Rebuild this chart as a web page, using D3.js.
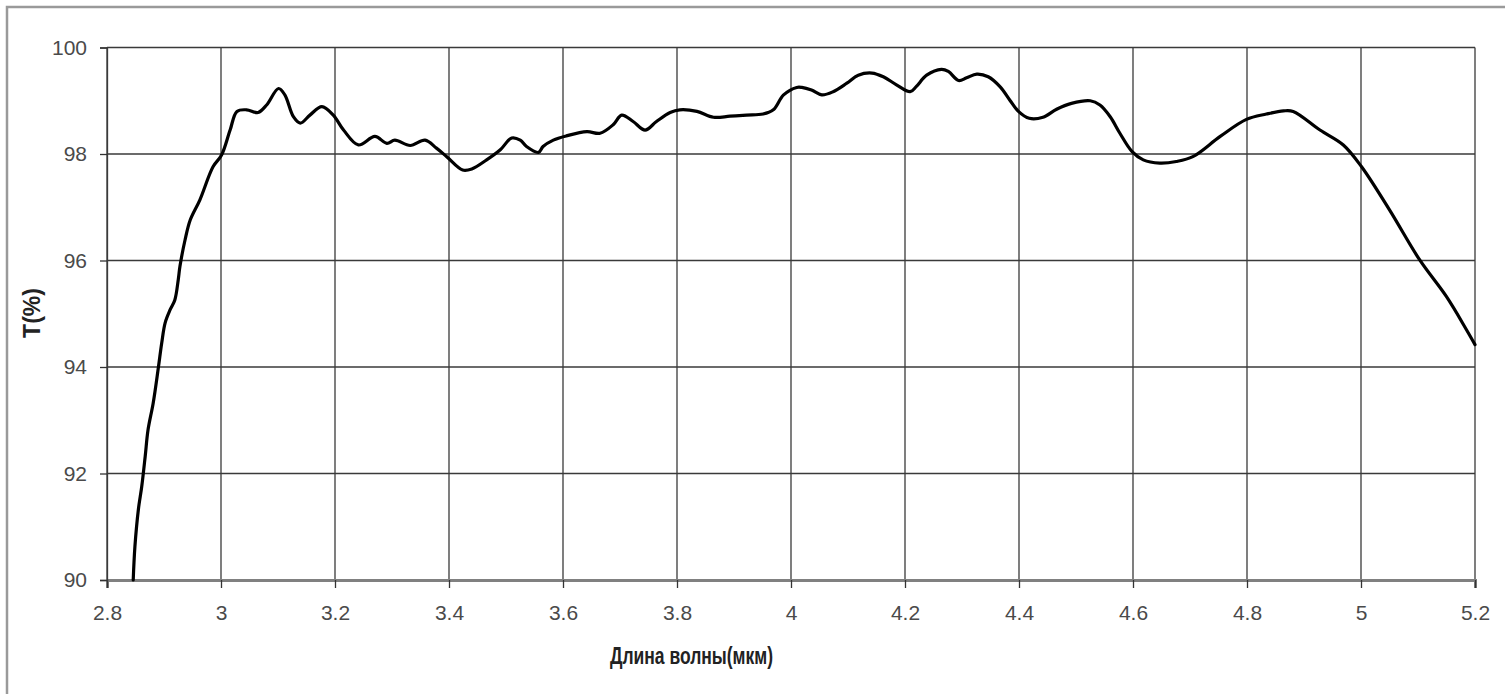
<!DOCTYPE html>
<html>
<head>
<meta charset="utf-8">
<script src="https://cdn.jsdelivr.net/npm/d3@7"></script>
<style>
  html, body { margin: 0; padding: 0; background: #fff; }
  svg { display: block; }
  .tick text { font-family: "Liberation Sans", Arial, sans-serif; fill: #4a4a4a; }
</style>
</head>
<body>
<div id="chart"></div>
<script>
// wavelength (мкм) and transmission T(%)
const wavelength = [
  2.846, 2.849, 2.855, 2.861, 2.867, 2.872, 2.881, 2.890, 2.896, 2.902,
  2.911, 2.919, 2.925, 2.928, 2.937, 2.946, 2.963, 2.986, 3.001, 3.016,
  3.028, 3.045, 3.065, 3.080, 3.101, 3.112, 3.127, 3.139, 3.156, 3.177,
  3.197, 3.215, 3.241, 3.270, 3.291, 3.305, 3.332, 3.358, 3.378, 3.396,
  3.424, 3.440, 3.466, 3.490, 3.510, 3.525, 3.536, 3.557, 3.565, 3.583,
  3.606, 3.642, 3.665, 3.688, 3.703, 3.723, 3.744, 3.764, 3.788, 3.805,
  3.835, 3.864, 3.893, 3.922, 3.951, 3.969, 3.987, 4.010, 4.019, 4.036,
  4.054, 4.074, 4.098, 4.118, 4.142, 4.162, 4.185, 4.209, 4.220, 4.238,
  4.264, 4.276, 4.294, 4.308, 4.326, 4.346, 4.367, 4.384, 4.399, 4.418,
  4.442, 4.466, 4.492, 4.525, 4.542, 4.560, 4.577, 4.598, 4.618, 4.647,
  4.676, 4.705, 4.753, 4.799, 4.834, 4.864, 4.881, 4.928, 4.969, 5.001,
  5.050, 5.103, 5.150, 5.185, 5.200
];
const transmission = [
  90.00, 90.63, 91.32, 91.76, 92.32, 92.82, 93.32, 93.98, 94.45, 94.83,
  95.08, 95.26, 95.64, 95.89, 96.39, 96.76, 97.14, 97.76, 97.98, 98.45,
  98.80, 98.83, 98.78, 98.92, 99.23, 99.11, 98.70, 98.58, 98.73, 98.89,
  98.73, 98.45, 98.17, 98.33, 98.20, 98.26, 98.16, 98.26, 98.11, 97.95,
  97.70, 97.72, 97.89, 98.08, 98.30, 98.26, 98.14, 98.03, 98.14, 98.26,
  98.34, 98.42, 98.39, 98.55, 98.73, 98.61, 98.45, 98.61, 98.78, 98.83,
  98.80, 98.69, 98.71, 98.73, 98.75, 98.83, 99.11, 99.25, 99.25, 99.20,
  99.11, 99.17, 99.33, 99.48, 99.52, 99.45, 99.30, 99.17, 99.27, 99.48,
  99.59, 99.55, 99.38, 99.43, 99.50, 99.45, 99.26, 99.01, 98.80, 98.67,
  98.69, 98.84, 98.95, 99.00, 98.92, 98.70, 98.39, 98.05, 97.89, 97.83,
  97.86, 97.95, 98.33, 98.65, 98.75, 98.81, 98.80, 98.45, 98.17, 97.76,
  96.95, 96.01, 95.32, 94.70, 94.42
];
const xTicks = [2.8, 3, 3.2, 3.4, 3.6, 3.8, 4, 4.2, 4.4, 4.6, 4.8, 5, 5.2];
const yTicks = [90, 92, 94, 96, 98, 100];

const W = 1505, H = 694;
const margin = { top: 47.5, right: 30, bottom: 114, left: 107 };

const svg = d3.select("#chart").append("svg")
  .attr("width", W)
  .attr("height", H);

// outer frame (runs off the right / bottom edge like the picture)
svg.append("path")
  .attr("d", `M7,${H + 5}V7H${W + 5}`)
  .attr("fill", "none")
  .attr("stroke", "#9a9a9a")
  .attr("stroke-width", 2.5);

const x = d3.scaleLinear().domain([2.8, 5.2]).range([margin.left, W - margin.right]);
const y = d3.scaleLinear().domain([90, 100]).range([H - margin.bottom, margin.top]);

// grid
svg.append("g")
  .selectAll("line.v")
  .data(xTicks)
  .enter().append("line")
  .attr("x1", d => x(d)).attr("x2", d => x(d))
  .attr("y1", y(100)).attr("y2", y(90))
  .attr("stroke", "#3a3a3a")
  .attr("stroke-width", 1.3);

svg.append("g")
  .selectAll("line.h")
  .data(yTicks)
  .enter().append("line")
  .attr("x1", x(2.8)).attr("x2", x(5.2))
  .attr("y1", d => y(d)).attr("y2", d => y(d))
  .attr("stroke", "#3a3a3a")
  .attr("stroke-width", 1.3);

// axes
const xAxis = svg.append("g")
  .attr("transform", `translate(0,${y(90)})`)
  .call(d3.axisBottom(x).tickValues(xTicks).tickSize(8).tickPadding(17).tickFormat(d3.format("")));
xAxis.select(".domain").attr("stroke", "#808080").attr("stroke-width", 3);
xAxis.selectAll(".tick line").attr("stroke", "#333").attr("stroke-width", 1.3);
xAxis.selectAll(".tick text").style("font-size", "21px");

const yAxis = svg.append("g")
  .attr("transform", `translate(${x(2.8)},0)`)
  .call(d3.axisLeft(y).tickValues(yTicks).tickSize(7).tickPadding(13));
yAxis.select(".domain").attr("stroke", "#3a3a3a").attr("stroke-width", 1.3);
yAxis.selectAll(".tick line").attr("stroke", "#333").attr("stroke-width", 1.3);
yAxis.selectAll(".tick text").style("font-size", "21px");

// curve
const line = d3.line()
  .x((d, i) => x(wavelength[i]))
  .y(d => y(d))
  .curve(d3.curveCatmullRom.alpha(0.5));

svg.append("path")
  .datum(transmission)
  .attr("d", line)
  .attr("fill", "none")
  .attr("stroke", "#000")
  .attr("stroke-width", 3.2)
  .attr("stroke-linejoin", "round")
  .attr("stroke-linecap", "round");

// titles
svg.append("text")
  .attr("x", 610)
  .attr("y", 664)
  .attr("textLength", 163)
  .attr("lengthAdjust", "spacingAndGlyphs")
  .style("font-family", "'Liberation Sans', Arial, sans-serif")
  .style("font-weight", "bold")
  .style("font-size", "24px")
  .style("fill", "#222")
  .text("Длина волны(мкм)");

svg.append("text")
  .attr("transform", `translate(40,313) rotate(-90)`)
  .attr("text-anchor", "middle")
  .style("font-family", "'Liberation Sans', Arial, sans-serif")
  .style("font-weight", "bold")
  .style("font-size", "23px")
  .style("fill", "#222")
  .text("T(%)");
</script>
</body>
</html>
